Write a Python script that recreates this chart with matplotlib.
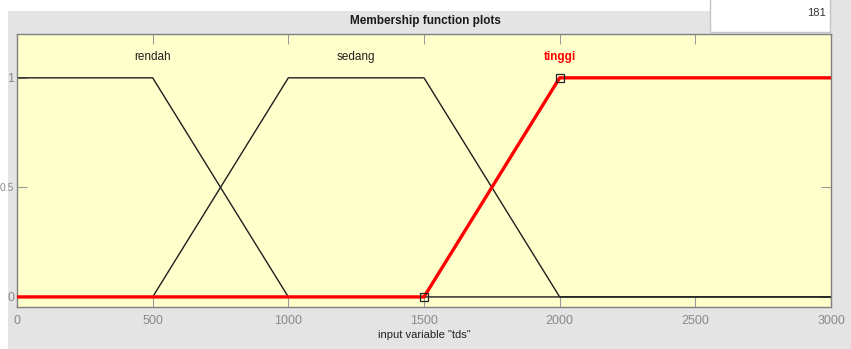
import matplotlib
matplotlib.use("Agg")
import matplotlib.pyplot as plt
from matplotlib.patches import Rectangle
import numpy as np

# ---- data ----
x_range = [0, 3000]
mf_names = ["rendah", "sedang", "tinggi"]
rendah_x = [0, 500, 1000, 3000]
rendah_y = [1, 1, 0, 0]
sedang_x = [0, 500, 1000, 1500, 2000, 3000]
sedang_y = [0, 0, 1, 1, 0, 0]
tinggi_x = [0, 1500, 2000, 3000]
tinggi_y = [0, 0, 1, 1]
label_x = [500, 1250, 2000]
label_y = 1.095
xticks = [0, 500, 1000, 1500, 2000, 2500, 3000]
xticklabels = ["0", "500", "1000", "1500", "2000", "2500", "3000"]
yticks = [0, 0.5, 1]
yticklabels = ["0", "0.5", "1"]
marker_x = [1500, 2000]
marker_y = [0, 1]

FONT = ["Liberation Sans Narrow", "Liberation Sans", "DejaVu Sans"]
plt.rcParams["font.family"] = FONT

W, H = 851, 349
fig = plt.figure(figsize=(W / 100, H / 100), dpi=100)
fig.patch.set_facecolor("#e4e4e4")

# white surroundings of the screenshot (drawn beneath the axes)
fig.add_artist(Rectangle((0, 0), 8 / W, 1, transform=fig.transFigure,
                         facecolor="white", edgecolor="none", zorder=-2))
fig.add_artist(Rectangle((0, 1 - 11 / H), 830 / W, 11 / H, transform=fig.transFigure,
                         facecolor="white", edgecolor="none", zorder=-2))

L, R, T, B = 17, 831, 34, 307
ax = fig.add_axes([L / W, 1 - B / H, (R - L) / W, (B - T) / H])
ax.set_facecolor("#ffffcc")

ax.plot(rendah_x, rendah_y, color="#1e1e1e", lw=1.0, zorder=2)
ax.plot(sedang_x, sedang_y, color="#1e1e1e", lw=1.0, zorder=2)
ax.plot(tinggi_x, tinggi_y, color="#ff0000", lw=2.4, zorder=3)
ax.plot(marker_x, marker_y, ls="none", marker="s", ms=6, mfc="none",
        mec="#222222", mew=0.9, zorder=4)

colors = ["#202020", "#202020", "#ff0000"]
for name, lx, c in zip(mf_names, label_x, colors):
    ax.text(lx, label_y, name, ha="center", va="center", fontsize=8.5,
            color=c, family=FONT, fontweight="bold" if c == "#ff0000" else "normal")

ax.set_xlim(x_range)
ax.set_ylim(-0.046, 1.2)
ax.set_xticks(xticks)
ax.set_xticklabels(xticklabels)
ax.set_yticks(yticks)
ax.set_yticklabels(yticklabels)
ax.tick_params(direction="in", length=7, width=0.8, color="#9a9a9a",
               labelcolor="#8a8a8a", labelsize=9, top=True, right=True)
ax.tick_params(axis="x", pad=6)
ax.tick_params(axis="y", pad=1.8)
for lbl in ax.get_yticklabels():
    if lbl.get_text() == "0.5":
        lbl.set_fontsize(7.5)
for s in ax.spines.values():
    s.set_color("#808080")
    s.set_linewidth(1.0)

ax.set_xlabel('input variable "tds"', fontsize=8, color="#222222", labelpad=2)

fig.text(425 / W, 1 - 21 / H, "Membership function plots", ha="center",
         va="center", fontsize=8.5, fontweight="bold", color="#1a1a1a")

fig.add_artist(Rectangle((710 / W, 1 - 32 / H), 120 / W, 32 / H + 0.01,
                         transform=fig.transFigure, facecolor="white",
                         edgecolor="#c4c4c4", lw=1.0, zorder=11))
fig.text(826 / W, 1 - 13 / H, "181", ha="right", va="center", fontsize=8,
         color="#333333", zorder=12)

fig.savefig("out.png", dpi=100, facecolor=fig.get_facecolor())
